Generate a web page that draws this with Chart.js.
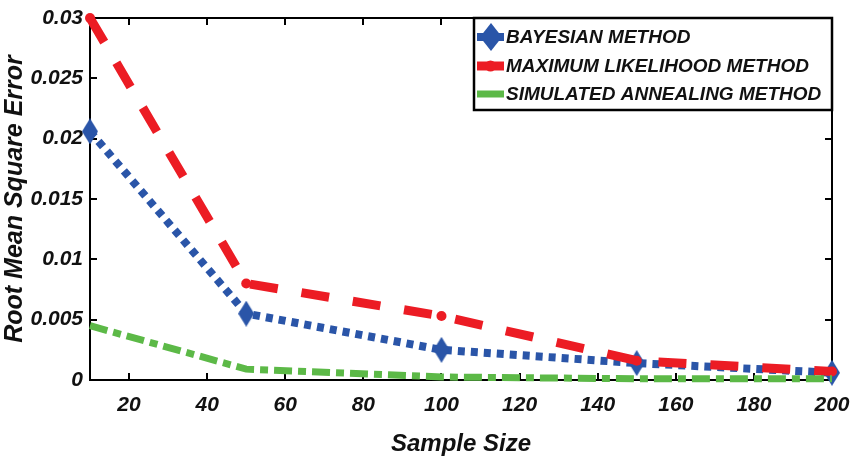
<!doctype html>
<html lang="en">
<head>
  <meta charset="utf-8">
  <title>Root Mean Square Error vs Sample Size</title>
  <style>
    html, body { margin: 0; padding: 0; background: #fff; }
    .wrap { width: 850px; height: 459px; }
  </style>
</head>
<body>
  <div class="wrap"><canvas id="rmse"></canvas></div>

  <script src="https://cdn.jsdelivr.net/npm/chart.js"></script>
  <script>
    const sampleSizes = [10, 50, 100, 150, 200];
    const bayesian    = [0.0206, 0.0055, 0.0025, 0.0014, 0.0006];
    const maxLike     = [0.0300, 0.0080, 0.0053, 0.0016, 0.0007];
    const simAnneal   = [0.0045, 0.0009, 0.00025, 0.0001, 0.0001];
    const xTicks      = [20, 40, 60, 80, 100, 120, 140, 160, 180, 200];
    const yTicks      = [0, 0.005, 0.01, 0.015, 0.02, 0.025, 0.03];
    const seriesNames = ['BAYESIAN METHOD', 'MAXIMUM LIKELIHOOD METHOD', 'SIMULATED ANNEALING METHOD'];

    const BLUE = '#2a55a8', RED = '#ec1c24', GREEN = '#5cb947';
    const FONT = "'Liberation Sans', Arial, sans-serif";

    // tall narrow diamond like the MATLAB marker
    function diamond(w, h, color) {
      const c = document.createElement('canvas');
      c.width = w; c.height = h;
      const g = c.getContext('2d');
      g.fillStyle = color;
      g.beginPath();
      g.moveTo(w / 2, 0); g.lineTo(w, h / 2); g.lineTo(w / 2, h); g.lineTo(0, h / 2);
      g.closePath(); g.fill();
      return c;
    }
    const blueDiamond = diamond(16, 26, BLUE);

    const pts = ys => sampleSizes.map((x, i) => ({ x, y: ys[i] }));

    // box frame with inward ticks on all four sides
    const frame = {
      id: 'frame',
      beforeDatasetsDraw(chart) {
        const { ctx, chartArea: a, scales: { x, y } } = chart;
        ctx.save();
        ctx.strokeStyle = '#000';
        ctx.lineWidth = 2;
        ctx.strokeRect(a.left, a.top, a.right - a.left, a.bottom - a.top);
        ctx.beginPath();
        xTicks.forEach(v => {
          const px = Math.round(x.getPixelForValue(v));
          ctx.moveTo(px, a.bottom); ctx.lineTo(px, a.bottom - 7);
          ctx.moveTo(px, a.top); ctx.lineTo(px, a.top + 7);
        });
        yTicks.forEach(v => {
          const py = Math.round(y.getPixelForValue(v));
          ctx.moveTo(a.left, py); ctx.lineTo(a.left + 7, py);
          ctx.moveTo(a.right, py); ctx.lineTo(a.right - 7, py);
        });
        ctx.stroke();
        ctx.restore();
      }
    };

    // boxed legend in the upper right corner
    const boxLegend = {
      id: 'boxLegend',
      afterDatasetsDraw(chart) {
        const { ctx, chartArea: a } = chart;
        const w = 358, h = 92;
        const left = a.right - w, top = a.top;
        ctx.save();
        ctx.fillStyle = '#fff';
        ctx.fillRect(left, top, w, h);
        ctx.strokeStyle = '#000';
        ctx.lineWidth = 2.5;
        ctx.strokeRect(left, top, w, h);

        const rows = [top + 19, top + 48, top + 76];
        const x0 = left + 3, x1 = left + 30;
        // bayesian
        ctx.strokeStyle = BLUE; ctx.lineWidth = 8;
        ctx.beginPath(); ctx.moveTo(x0, rows[0]); ctx.lineTo(x1, rows[0]); ctx.stroke();
        ctx.drawImage(diamond(22, 28, BLUE), left + 6, rows[0] - 14);
        // max likelihood
        ctx.strokeStyle = RED; ctx.lineWidth = 9;
        ctx.beginPath(); ctx.moveTo(x0, rows[1]); ctx.lineTo(x1, rows[1]); ctx.stroke();
        ctx.fillStyle = RED;
        ctx.beginPath(); ctx.arc((x0 + x1) / 2, rows[1], 5.5, 0, Math.PI * 2); ctx.fill();
        // simulated annealing
        ctx.strokeStyle = GREEN; ctx.lineWidth = 7;
        ctx.beginPath(); ctx.moveTo(x0, rows[2]); ctx.lineTo(x1, rows[2]); ctx.stroke();

        ctx.fillStyle = '#111';
        ctx.font = `italic bold 19px ${FONT}`;
        ctx.textBaseline = 'middle';
        seriesNames.forEach((s, i) => ctx.fillText(s, left + 32, rows[i] + 1));
        ctx.restore();
      }
    };

    new Chart(document.getElementById('rmse'), {
      type: 'line',
      data: {
        datasets: [
          {
            label: seriesNames[0], data: pts(bayesian),
            borderColor: BLUE, backgroundColor: BLUE,
            borderWidth: 8, borderDash: [7, 6],
            pointStyle: blueDiamond, pointRadius: 10,
            clip: false, order: 3
          },
          {
            label: seriesNames[1], data: pts(maxLike),
            borderColor: RED, backgroundColor: RED,
            borderWidth: 9, borderDash: [28, 24],
            pointStyle: 'circle', pointRadius: 5, pointBorderWidth: 0,
            clip: false, order: 2
          },
          {
            label: seriesNames[2], data: pts(simAnneal),
            borderColor: GREEN, backgroundColor: GREEN,
            borderWidth: 7, borderDash: [18, 6, 8, 6],
            pointRadius: 0,
            clip: false, order: 1
          }
        ]
      },
      options: {
        responsive: true,
        maintainAspectRatio: false,
        animation: false,
        layout: { padding: { left: 0, right: 18, top: 15, bottom: 0 } },
        plugins: {
          legend: { display: false },
          tooltip: { enabled: false }
        },
        scales: {
          x: {
            type: 'linear', min: 10, max: 200,
            grid: { display: false, drawTicks: false },
            border: { display: false },
            afterBuildTicks: s => { s.ticks = xTicks.map(v => ({ value: v })); },
            afterFit: s => { s.height = 79; s.paddingLeft = 0; s.paddingRight = 0; },
            ticks: {
              color: '#111', padding: 13, maxRotation: 0,
              font: { family: FONT, size: 21, weight: 'bold', style: 'italic' }
            },
            title: {
              display: true, text: 'Sample Size', color: '#111',
              padding: { top: 0, bottom: 0 },
              font: { family: FONT, size: 24, weight: 'bold', style: 'italic' }
            }
          },
          y: {
            min: 0, max: 0.03,
            grid: { display: false, drawTicks: false },
            border: { display: false },
            afterBuildTicks: s => { s.ticks = yTicks.map(v => ({ value: v })); },
            afterFit: s => { s.width = 90; s.paddingTop = 0; s.paddingBottom = 0; },
            ticks: {
              color: '#111', padding: 7,
              callback: v => String(v),
              font: { family: FONT, size: 21, weight: 'bold', style: 'italic' }
            },
            title: {
              display: true, text: 'Root Mean Square Error', color: '#111',
              padding: { top: 0, bottom: 0 },
              font: { family: FONT, size: 25, weight: 'bold', style: 'italic' }
            }
          }
        }
      },
      plugins: [frame, boxLegend]
    });
  </script>
</body>
</html>
